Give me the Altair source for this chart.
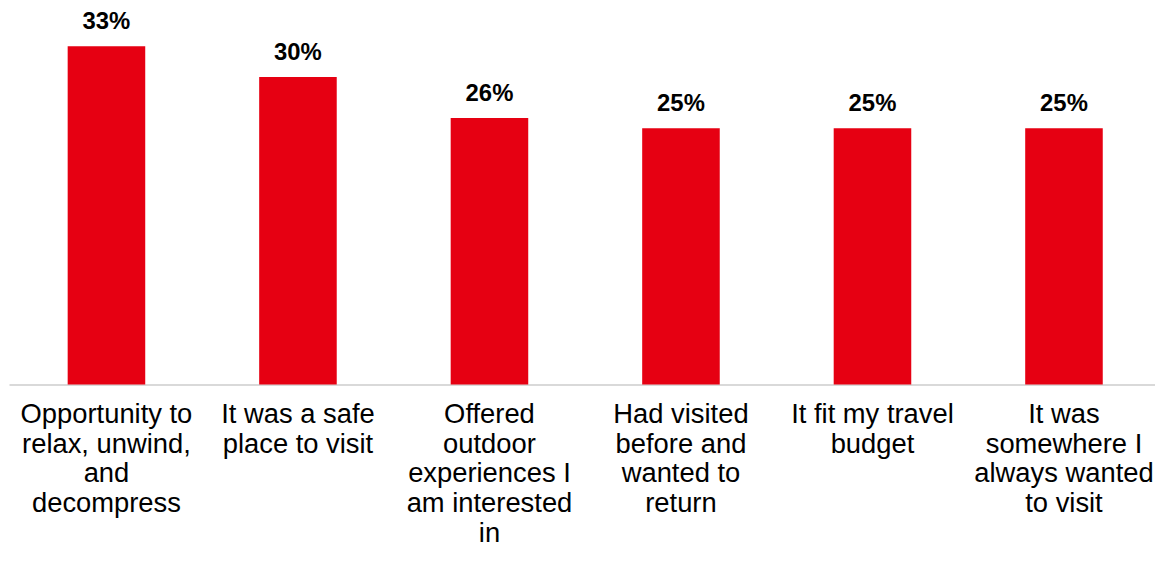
import altair as alt
import pandas as pd

categories = [
    "Opportunity to\nrelax, unwind,\nand\ndecompress",
    "It was a safe\nplace to visit",
    "Offered\noutdoor\nexperiences I\nam interested\nin",
    "Had visited\nbefore and\nwanted to\nreturn",
    "It fit my travel\nbudget",
    "It was\nsomewhere I\nalways wanted\nto visit",
]
values = [33, 30, 26, 25, 25, 25]
value_labels = ["33%", "30%", "26%", "25%", "25%", "25%"]

df = pd.DataFrame({"cat": categories, "val": values, "lab": value_labels})

FONT = "Liberation Sans"

x = alt.X(
    "cat:N",
    sort=categories,
    scale=alt.Scale(paddingInner=0.595, paddingOuter=0.2896, align=0.529),
    axis=alt.Axis(
        title=None,
        labelAngle=0,
        labelExpr="split(datum.value, '\\n')",
        labelFont=FONT,
        labelFontSize=27.5,
        labelColor="#000000",
        labelLineHeight=30,
        labelPadding=16,
        labelBaseline="top",
        labelLimit=0,
        ticks=False,
        domainColor="#d9d9d9",
        domainWidth=2,
        labelOverlap=False,
    ),
)
y = alt.Y("val:Q", scale=alt.Scale(domain=[0, 36.6], nice=False, zero=True), axis=None)

bars = alt.Chart(df).mark_bar(color="#E60012").encode(x=x, y=y)
text = alt.Chart(df).mark_text(
    font=FONT, fontSize=24, fontWeight="bold", color="#000000",
    baseline="alphabetic", dy=-17,
).encode(x=x, y=y, text="lab:N")

chart = (
    alt.layer(bars, text)
    .properties(
        width=1152,
        height=377,
        autosize=alt.AutoSizeParams(type="none"),
        padding={"left": 1, "top": 0, "right": 0, "bottom": 164},
        background="white",
    )
    .configure_view(strokeWidth=0, stroke="transparent")
)

chart.save("out.html", embed_options={"renderer": "svg", "actions": False})
